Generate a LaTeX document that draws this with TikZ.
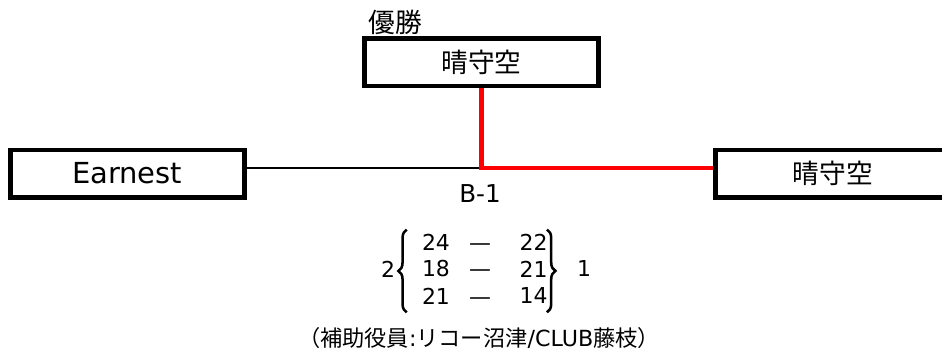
\documentclass[tikz,border=0pt]{standalone}
\usepackage{fontspec}
\setmainfont{DejaVu Sans}
\newfontfamily\jpfont{Noto Sans CJK JP}
\usetikzlibrary{positioning,calc,decorations.pathreplacing}
\tikzset{
  team/.style={rectangle, draw=black, line width=3.5pt, fill=white, minimum width=5.85cm, minimum height=1.18cm, inner sep=0pt, font=\jpfont\fontsize{19}{23}\selectfont},
  loseline/.style={line width=1.6pt, black},
  winline/.style={line width=3.2pt, red},
  score/.style={font=\fontsize{15.6}{18}\selectfont, inner sep=1pt},
  scorebrace/.style={decorate, decoration={brace, amplitude=2.1mm}, line width=1.8pt},
  note/.style={font=\fontsize{15.8}{19}\selectfont, inner sep=1pt}
}

\begin{document}
\begin{tikzpicture}
  \clip (0,0) rectangle (23.55,8.9);
  \node[team] (top) at (12.04,7.34) {晴守空};
  \node[team, font=\fontsize{20.6}{24}\selectfont] (left) at (3.18,4.56) {Earnest};
  \node[team] (right) at (20.82,4.56) {晴守空};
  \coordinate (j) at (12.03,4.7);
  \draw[loseline] (left.east |- j) -- (j);
  \draw[winline] (top.south) |- (right.west |- j);
  \node[font=\jpfont\fontsize{19}{23}\selectfont, inner sep=1pt] (title) at (9.875,8.34) {優勝};
  \node[font=\fontsize{17.5}{21}\selectfont, inner sep=1pt] (match) at (12.0,4.05) {B-1};
  % game scores
  \foreach \l/\r [count=\i] in {24/22,18/21,21/14} {
    \node[score] (l\i) at (10.9,{3.525-0.675*\i}) {\l};
    \node[score, anchor=base] (d\i) at (12.0,0 |- l\i.base) {—};
    \node[score, anchor=east] (r\i) at (13.73,{3.525-0.675*\i}) {\r};
  }
  \draw[scorebrace] ($(l3.south west)+(-0.34,-0.165)$) -- ($(l1.north west)+(-0.34,0.065)$);
  \draw[scorebrace] ($(r1.north east)+(-0.055,0.065)$) -- ($(r3.south east)+(-0.055,-0.165)$);
  \node[score] (lsets) at (9.7,2.175) {2};
  \node[score] (rsets) at (14.6,2.175) {1};
  \node[note] (helpers) at (11.975,0.45) {{\jpfont （補助役員}:{\jpfont リコー沼津}/CLUB{\jpfont 藤枝）}};
\end{tikzpicture}
\end{document}
